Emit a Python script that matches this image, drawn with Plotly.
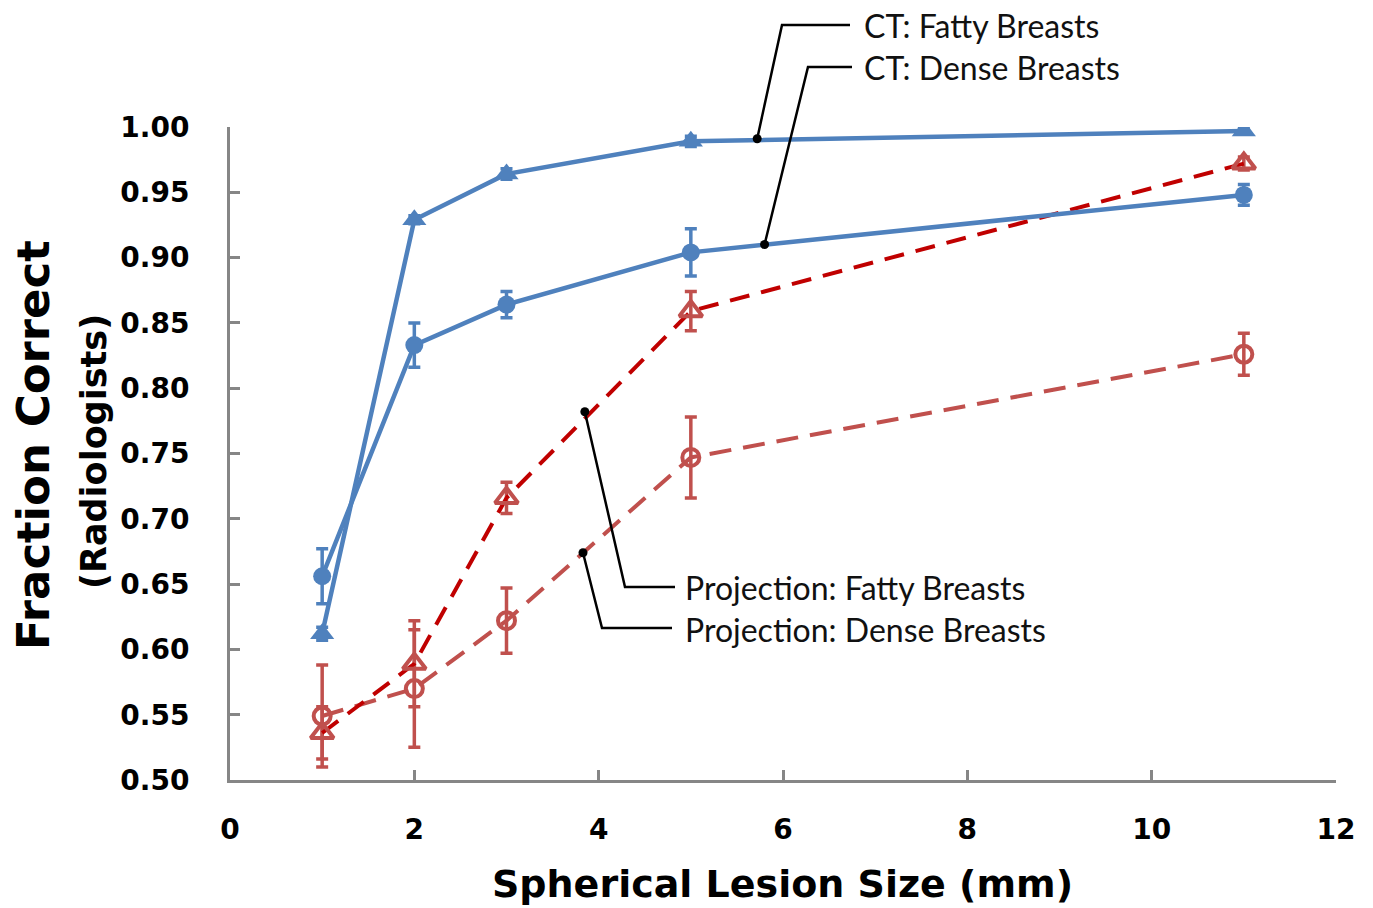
import plotly.graph_objects as go

# ---- data ----
lesion_size = [1, 2, 3, 5, 11]
ct_fatty = [0.612, 0.929, 0.964, 0.989, 0.997]
ct_fatty_err = [0.005, 0.003, 0.004, 0.004, 0.002]
ct_dense = [0.656, 0.833, 0.864, 0.904, 0.948]
ct_dense_err = [0.021, 0.017, 0.010, 0.018, 0.008]
proj_fatty = [0.536, 0.589, 0.716, 0.859, 0.972]
proj_fatty_err = [0.020, 0.033, 0.012, 0.015, 0.005]
proj_dense = [0.549, 0.570, 0.622, 0.747, 0.826]
proj_dense_err = [0.039, 0.045, 0.025, 0.031, 0.016]

x_ticks = [0, 2, 4, 6, 8, 10, 12]
y_ticks = [0.50, 0.55, 0.60, 0.65, 0.70, 0.75, 0.80, 0.85, 0.90, 0.95, 1.00]

labels = ["CT: Fatty Breasts", "CT: Dense Breasts",
          "Projection: Fatty Breasts", "Projection: Dense Breasts"]

BLUE = "#4F81BD"
RED = "#C0504D"
DARKRED = "#C00000"
AXIS = "#868686"

W, H = 1373, 908
L, R, T, B = 230, 37, 127, 128
X0, X1 = 0, 12
Y0, Y1 = 0.5, 1.0


def px(xp):
    return (xp - L) / (W - L - R)


def py(yp):
    return (H - B - yp) / (H - T - B)


def dx(x):
    return (x - X0) / (X1 - X0)


def dy(y):
    return (y - Y0) / (Y1 - Y0)


fig = go.Figure()

fig.add_trace(go.Scatter(
    x=lesion_size, y=proj_dense, mode="lines+markers", name=labels[3],
    line=dict(color=RED, width=4, dash="22px,12px"),
    marker=dict(symbol="circle-open", size=17, color=RED, line=dict(width=4, color=RED)),
    error_y=dict(type="data", array=proj_dense_err, color=RED, thickness=3.5, width=6),
))
fig.add_trace(go.Scatter(
    x=lesion_size, y=proj_fatty, mode="lines+markers", name=labels[2],
    line=dict(color=DARKRED, width=4, dash="20px,12px"),
    marker=dict(symbol="triangle-up-open", size=20, color=RED, line=dict(width=4, color=RED)),
    error_y=dict(type="data", array=proj_fatty_err, color=RED, thickness=3.5, width=6),
))
fig.add_trace(go.Scatter(
    x=lesion_size, y=ct_dense, mode="lines+markers", name=labels[1],
    line=dict(color=BLUE, width=4.5),
    marker=dict(symbol="circle", size=18, color=BLUE),
    error_y=dict(type="data", array=ct_dense_err, color=BLUE, thickness=3.5, width=6),
))
fig.add_trace(go.Scatter(
    x=lesion_size, y=ct_fatty, mode="lines+markers", name=labels[0],
    line=dict(color=BLUE, width=4.5),
    marker=dict(symbol="triangle-up", size=21, color=BLUE),
    error_y=dict(type="data", array=ct_fatty_err, color=BLUE, thickness=3.5, width=6),
))

# ---- leader lines (dot on curve -> elbow -> label) ----
leaders = [
    # dot (data), elbow (pixel), end (pixel), label left/center (pixel)
    ((5.72, 0.991), (782, 25), (850, 25), (862, 25), labels[0]),
    ((5.80, 0.910), (808, 67), (852, 67), (862, 67), labels[1]),
    ((3.85, 0.782), (625, 587), (675, 587), (683, 587), labels[2]),
    ((3.83, 0.674), (602, 628), (672, 628), (683, 629), labels[3]),
]
for (ddot, elbow, end, lab, text) in leaders:
    x0p, y0p = dx(ddot[0]), dy(ddot[1])
    path = "M {:.5f} {:.5f} L {:.5f} {:.5f} L {:.5f} {:.5f}".format(
        x0p, y0p, px(elbow[0]), py(elbow[1]), px(end[0]), py(end[1]))
    fig.add_shape(type="path", xref="paper", yref="paper", path=path,
                  line=dict(color="black", width=2.5))
    fig.add_annotation(x=px(lab[0]), y=py(lab[1]), xref="paper", yref="paper",
                       text=text, showarrow=False, xanchor="left", yanchor="middle",
                       font=dict(family="Lato", size=32, color="#111111"))

fig.add_trace(go.Scatter(
    x=[5.72, 5.80, 3.85, 3.83], y=[0.991, 0.910, 0.782, 0.674], mode="markers",
    marker=dict(color="black", size=9), showlegend=False, hoverinfo="skip",
    cliponaxis=False,
))

# ---- axis titles ----
fig.add_annotation(x=px(33), y=py(445), xref="paper", yref="paper",
                   text="<b>Fraction Correct</b>", showarrow=False, textangle=-90,
                   xanchor="center", yanchor="middle",
                   font=dict(family="DejaVu Sans", size=45, color="black"))
fig.add_annotation(x=px(94), y=py(452), xref="paper", yref="paper",
                   text="<b>(Radiologists)</b>", showarrow=False, textangle=-90,
                   xanchor="center", yanchor="middle",
                   font=dict(family="DejaVu Sans", size=35, color="black"))
fig.add_annotation(x=px(782), y=py(884), xref="paper", yref="paper",
                   text="<b>Spherical Lesion Size (mm)</b>", showarrow=False,
                   xanchor="center", yanchor="middle",
                   font=dict(family="DejaVu Sans", size=38, color="black"))

fig.update_layout(
    width=W, height=H, autosize=False,
    margin=dict(l=L, r=R, t=T, b=B, pad=0),
    paper_bgcolor="white", plot_bgcolor="white",
    showlegend=False,
    font=dict(family="DejaVu Sans", color="black"),
)
fig.update_xaxes(
    range=[X0, X1], tickvals=x_ticks, ticktext=[str(v) for v in x_ticks],
    showgrid=False, zeroline=False, showline=True, linecolor=AXIS, linewidth=3,
    ticks="inside", ticklen=10, tickwidth=3, tickcolor=AXIS,
    tickfont=dict(family="DejaVu Sans", size=28, color="black", weight="bold"),
    ticklabelstandoff=22,
)
fig.update_yaxes(
    range=[Y0, Y1], tickvals=y_ticks, ticktext=["{:.2f}".format(v) for v in y_ticks],
    showgrid=False, zeroline=False, showline=True, linecolor=AXIS, linewidth=3,
    ticks="inside", ticklen=10, tickwidth=3, tickcolor=AXIS,
    tickfont=dict(family="DejaVu Sans", size=28, color="black", weight="bold"),
    ticklabelstandoff=32,
)

fig.write_html("out.html", config={"displayModeBar": False},
               post_script="document.body.style.margin='0';")
